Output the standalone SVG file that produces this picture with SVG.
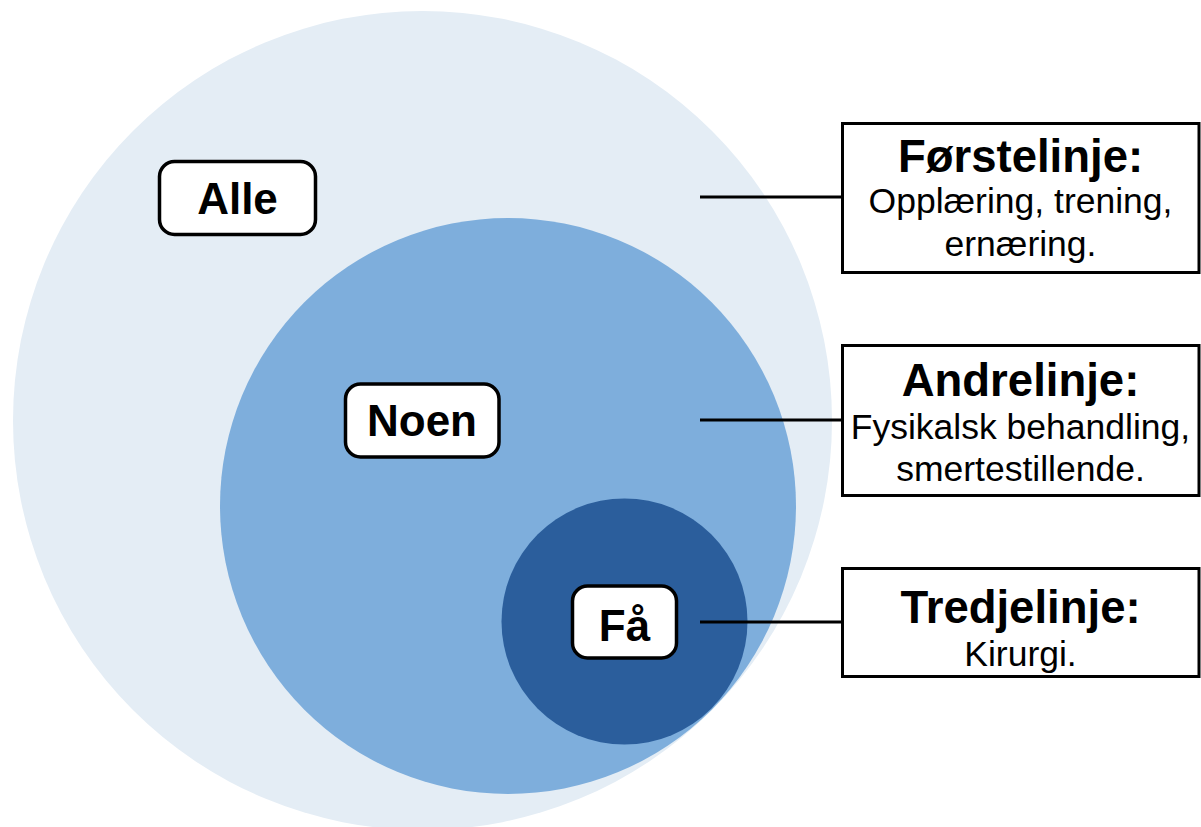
<svg xmlns="http://www.w3.org/2000/svg" width="1201" height="827" viewBox="0 0 1201 827">
<style>
.lbl rect{fill:#fff;stroke:#000;stroke-width:3.5}
.lbl text{font-family:"Liberation Sans",Arial,sans-serif;font-weight:bold;font-size:44px;text-anchor:middle;fill:#000}
.info rect{fill:#fff;stroke:#000;stroke-width:3}
.info text{font-family:"Liberation Sans",Arial,sans-serif;text-anchor:middle;fill:#000}
.info .h{font-weight:bold;font-size:45.5px}
.info .b{font-size:35.5px}
.conn line{stroke:#000;stroke-width:3}
</style>
<rect width="1201" height="827" fill="#fff"/>
<g id="circles">
<circle id="c-alle" cx="422.5" cy="420.5" r="409.5" fill="#E4EDF5"/>
<circle id="c-noen" cx="508" cy="506" r="288" fill="#7EAEDC"/>
<circle id="c-faa" cx="624.5" cy="621.5" r="123" fill="#2B5E9C"/>
</g>
<g id="connectors" class="conn">
<line x1="700" y1="197" x2="842" y2="197"/>
<line x1="700" y1="420" x2="842" y2="420"/>
<line x1="700" y1="622" x2="842" y2="622"/>
</g>
<g id="label-alle" class="lbl">
<rect x="159.5" y="161.5" width="156" height="73" rx="15"/>
<text x="237.5" y="214">Alle</text>
</g>
<g id="label-noen" class="lbl">
<rect x="345.5" y="384" width="153.5" height="73" rx="15"/>
<text x="422" y="436">Noen</text>
</g>
<g id="label-faa" class="lbl">
<rect x="572.5" y="586" width="104" height="72" rx="15"/>
<text x="624.5" y="641">Få</text>
</g>
<g id="info-forste" class="info">
<rect x="842.5" y="123.5" width="356.5" height="149"/>
<text class="h" x="1020.5" y="172">Førstelinje:</text>
<text class="b" x="1020.5" y="213">Opplæring, trening,</text>
<text class="b" x="1020.5" y="256">ernæring.</text>
</g>
<g id="info-andre" class="info">
<rect x="842.5" y="345.5" width="356.5" height="150"/>
<text class="h" x="1020.5" y="396">Andrelinje:</text>
<text class="b" x="1020.5" y="439">Fysikalsk behandling,</text>
<text class="b" x="1020.5" y="481">smertestillende.</text>
</g>
<g id="info-tredje" class="info">
<rect x="842.5" y="568.5" width="356.5" height="108"/>
<text class="h" x="1020.5" y="623">Tredjelinje:</text>
<text class="b" x="1020.5" y="666">Kirurgi.</text>
</g>
</svg>
